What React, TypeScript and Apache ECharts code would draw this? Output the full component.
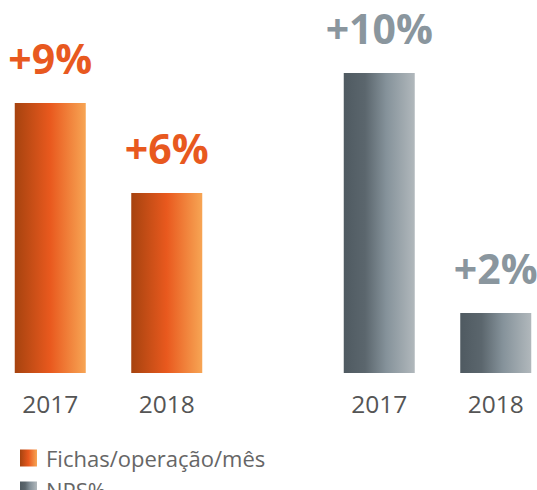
import React, { useEffect, useRef } from "react";
import * as echarts from "echarts";

const years = ["2017", "2018"];
const fichasValues = [9, 6];
const npsValues = [10, 2];
const seriesNames = ["Fichas/operação/mês", "NPS%"];

const FONT = "'Open Sans', 'Noto Sans', sans-serif";

const orangeGrad = new echarts.graphic.LinearGradient(0, 0, 1, 0, [
  { offset: 0, color: "#A6430F" },
  { offset: 0.5, color: "#E9591E" },
  { offset: 1, color: "#F7A554" },
]);
const grayGrad = new echarts.graphic.LinearGradient(0, 0, 1, 0, [
  { offset: 0, color: "#4F5A61" },
  { offset: 0.3, color: "#5B666D" },
  { offset: 0.6, color: "#85929A" },
  { offset: 1, color: "#B1B8BC" },
]);

export default function App() {
  const ref = useRef<HTMLDivElement>(null);
  useEffect(() => {
    const chart = echarts.init(ref.current!, null, { renderer: "svg" });
    const xAxisCommon = {
      type: "category" as const,
      data: years,
      axisLine: { show: false },
      axisTick: { show: false },
      axisLabel: { color: "#555", fontSize: 24.5, fontFamily: FONT, margin: 18 },
    };
    const yAxisCommon = {
      type: "value" as const,
      min: 0,
      max: 12,
      show: false,
      splitLine: { show: false },
    };
    const legendCommon = {
      orient: "vertical" as const,
      left: 15,
      itemWidth: 17,
      itemHeight: 17,
      icon: "rect",
      textStyle: { color: "#666", fontSize: 22, fontFamily: FONT, padding: [0, 0, 0, 4] },
    };
    const labelCommon = {
      show: true,
      position: "top" as const,
      distance: 25,
      formatter: (p: any) => "+" + p.value + "%",
      fontSize: 41,
      fontWeight: "bold" as const,
      fontFamily: FONT,
    };
    chart.setOption({
      animation: false,
      grid: [
        { left: -8, top: 13, width: 233, height: 360, outerBoundsMode: "none", containLabel: false },
        { left: 321, top: 13, width: 233, height: 360, outerBoundsMode: "none", containLabel: false },
      ],
      xAxis: [
        { ...xAxisCommon, gridIndex: 0 },
        { ...xAxisCommon, gridIndex: 1 },
      ],
      yAxis: [
        { ...yAxisCommon, gridIndex: 0 },
        { ...yAxisCommon, gridIndex: 1 },
      ],
      legend: [
        { ...legendCommon, top: 442, data: [seriesNames[0]] },
        { ...legendCommon, top: 474, data: [seriesNames[1]] },
      ],
      series: [
        {
          name: seriesNames[0],
          type: "bar",
          xAxisIndex: 0,
          yAxisIndex: 0,
          data: fichasValues,
          barWidth: 71,
          itemStyle: { color: orangeGrad },
          label: { ...labelCommon, color: "#E8591F" },
        },
        {
          name: seriesNames[1],
          type: "bar",
          xAxisIndex: 1,
          yAxisIndex: 1,
          data: npsValues,
          barWidth: 71,
          itemStyle: { color: grayGrad },
          label: { ...labelCommon, color: "#8A969E" },
        },
      ],
    });
    return () => chart.dispose();
  }, []);
  return <div ref={ref} style={{ width: 537, height: 490, position: "absolute", left: 0, top: 0 }} />;
}
